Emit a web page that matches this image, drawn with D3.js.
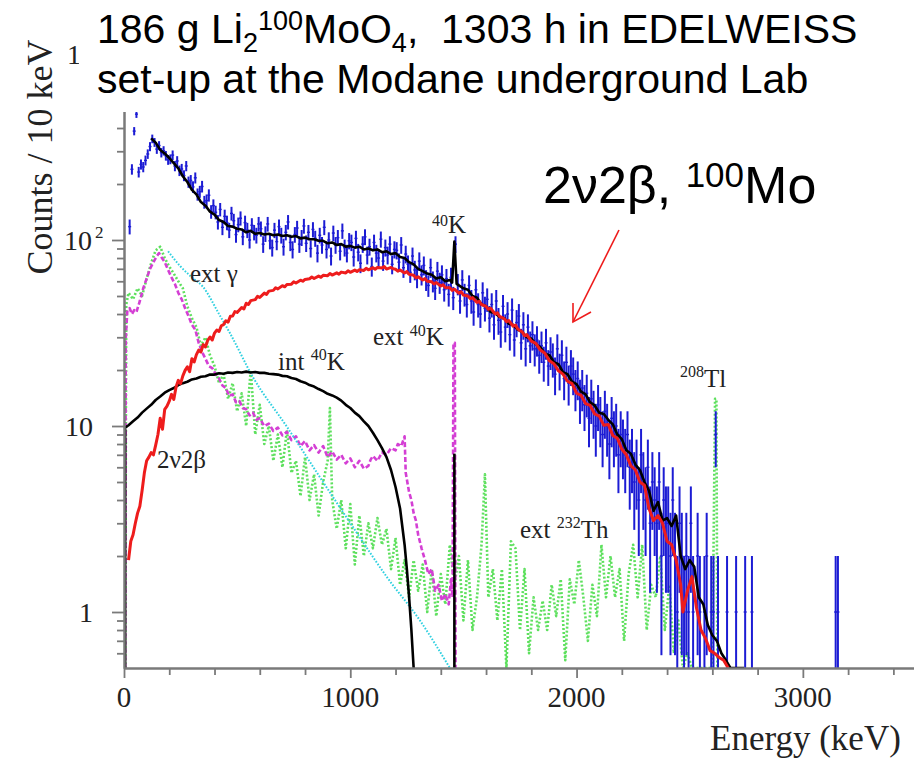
<!DOCTYPE html>
<html>
<head>
<meta charset="utf-8">
<script src="https://cdn.jsdelivr.net/npm/d3@7"></script>
<style>
  body { margin: 0; background: #fff; }
  svg { display: block; }
  .serif { font-family: "Liberation Serif", "Times New Roman", serif; }
  .sans { font-family: "Liberation Sans", Arial, sans-serif; }
</style>
</head>
<body>
<div id="chart"></div>
<script>
// ---- data (counts / 10 keV) ----

// measured spectrum, 10 keV bins starting at 0 keV
const binWidth = 10;
const dataCounts = [
  0, 0, 118, 240, 385, 475, 232, 255, 247, 268, 290, 318, 350, 335, 308, 322, 295, 302, 284, 270,
  272, 286, 250, 266, 236, 241, 222, 250, 205, 209, 193, 216, 176, 182, 194, 160, 163, 174, 142, 153,
  141, 125, 146, 117, 134, 124, 113, 139, 127, 107, 121, 131, 104, 124, 113, 100, 120, 110, 106, 122,
  115, 95, 108, 122, 99, 91, 113, 98, 118, 106, 92, 110, 125, 97, 89, 107, 116, 95, 103, 119,
  96, 110, 90, 114, 102, 85, 106, 94, 117, 89, 100, 82, 109, 94, 103, 87, 112, 91, 85, 99,
  97, 81, 102, 86, 75, 95, 104, 83, 92, 72, 97, 85, 80, 101, 77, 91, 83, 95, 74, 89,
  88, 76, 94, 71, 84, 74, 67, 82, 69, 63, 77, 65, 73, 61, 57, 71, 60, 55, 68, 59,
  65, 54, 62, 51, 63, 49, 95, 58, 47, 61, 51, 45, 57, 47, 41, 54, 45, 40, 52, 43,
  48, 38, 45, 35, 47, 37, 32, 44, 34, 40, 31, 42, 29, 36, 39, 28, 35, 26, 34, 27,
  31, 26, 29, 24, 27, 22, 28, 21, 25, 23, 19, 26, 20, 24, 18, 22, 17, 21, 19, 16,
  18, 14, 16, 13, 15, 11, 14, 12, 10, 13, 11, 9, 12, 10, 8, 11, 9, 10, 7, 9,
  8, 7, 9, 6, 7, 5, 6, 4, 7, 5, 4, 6, 3, 5, 4, 3, 5, 2, 4, 3,
  3, 2, 4, 2, 1, 3, 2, 1, 2, 1, 3, 1, 0, 2, 1, 0, 1, 2, 0, 1,
  1, 9, 1, 0, 0, 0, 1, 0, 0, 0, 1, 0, 0, 0, 1, 0, 0, 1, 0, 0,
  0, 0, 0, 0, 0, 0, 0, 0, 0, 0, 0, 0, 0, 0, 0, 0, 0, 0, 0, 0,
  0, 0, 0, 0, 0, 0, 0, 0, 0, 0, 0, 0, 0, 0, 1, 1, 0, 0, 0, 0
];

// total background model [keV, counts]
const totalModel = [
  [120,352],[140,334],[160,305],[180,292],[200,276],[220,259],[240,243],[260,220],[280,205],[300,186],
  [320,176],[340,160],[360,153],[380,142],[400,137],[420,128],[440,125],[460,119],[480,118],[500,115],
  [520,114],[540,110],[560,112],[580,108],[600,109],[620,107],[640,108],[660,106],[680,107],[700,105],
  [720,106],[740,104],[760,105],[780,102],[800,103],[820,101],[840,101],[860,99],[880,99],[900,96],
  [920,97],[940,94],[960,95],[980,92],[1000,93],[1020,91],[1040,92],[1060,89],[1080,90],[1100,88],
  [1120,89],[1140,86],[1160,87],[1180,84],[1200,85],[1220,81],[1240,80],[1260,76],[1280,74],[1300,70],
  [1320,68],[1340,66],[1360,65],[1380,62],[1400,63],[1420,60],[1440,61],[1450,59],[1460,98],[1470,58],
  [1480,57],[1500,55],[1520,54],[1540,50],[1560,49],[1580,45],[1600,44],[1620,41],[1640,40.5],[1660,38.5],
  [1680,38],[1700,35.5],[1720,35],[1740,33],[1760,32],[1780,30],[1800,29.5],[1820,27.5],[1840,26.5],[1860,24.5],
  [1880,24],[1900,22],[1920,21.5],[1940,19.5],[1960,19],[1980,17.3],[2000,16.8],[2020,15.3],[2040,14.8],[2060,13.4],
  [2080,12.9],[2100,11.8],[2120,11.6],[2140,10.8],[2160,10.2],[2180,9.0],[2200,8.5],[2220,7.4],[2240,7.1],[2260,6.2],
  [2280,5.8],[2300,5.0],[2320,4.5],[2340,3.5],[2360,3.9],[2380,3.1],[2400,3.2],[2420,2.9],[2440,3.3],[2460,2.0],
  [2480,1.7],[2500,1.9],[2520,1.75],[2540,1.2],[2560,1.1],[2580,0.85],[2600,0.75],[2620,0.7],[2640,0.6],[2660,0.55],
  [2680,0.5],[2740,0.5]
];

// 2nu2beta of 100Mo
const dbdModel = [
  [20,1.9],[30,2.4],[40,2.6],[50,3.0],[60,3.4],[70,3.7],[80,4.5],[90,5.6],[100,6.5],[110,6.8],
  [120,7.2],[130,7.0],[140,7.9],[150,9.0],[160,11.0],[170,9.6],[180,12.3],[190,12.8],
  [200,13.6],[210,14.8],[220,13.9],[230,16.2],[240,17.6],[250,16.9],[260,18.6],[270,19.9],[280,20.8],[290,19.6],
  [300,23.0],[310,22.1],[320,24.2],[330,25.6],[340,25.0],[350,27.4],[360,26.6],[370,28.9],[380,30.1],[390,29.0],
  [400,31.6],[410,32.8],[420,32.2],[430,34.6],[440,35.1],[450,36.8],[460,36.2],[470,38.9],[480,39.0],[490,41.2],
  [500,40.8],[520,43.4],[530,42.6],[540,45.7],[550,45.0],[560,47.2],[580,47.8],[590,49.8],[600,49.1],[620,51.8],
  [630,51.0],[640,53.1],[660,53.6],[670,55.4],[680,54.6],[700,56.8],[710,56.0],[720,57.6],[740,57.9],[750,59.6],
  [760,58.7],[780,60.8],[790,60.0],[800,61.4],[820,61.9],[830,63.2],[840,62.1],[860,64.0],[870,63.0],[880,64.6],
  [900,64.3],[910,66.1],[920,64.8],[940,66.6],[950,65.5],[960,67.2],[980,66.5],[990,68.3],[1000,67.0],[1020,68.9],
  [1030,67.8],[1040,69.1],[1060,68.6],[1070,70.4],[1080,69.1],[1100,71.0],[1110,69.6],[1120,71.2],[1140,70.8],[1150,71.9],
  [1160,69.8],[1180,71.2],[1190,70.0],[1200,69.6],[1210,68.0],[1220,69.0],[1240,66.5],[1250,67.6],[1260,65.4],[1280,64.6],
  [1290,62.6],[1300,63.4],[1320,61.0],[1330,62.0],[1340,60.0],[1360,59.6],[1370,58.0],[1380,59.0],[1400,56.6],[1410,57.4],
  [1420,55.6],[1440,55.4],[1450,53.6],[1460,54.4],[1480,51.8],[1490,52.6],[1500,50.6],[1520,50.0],[1530,48.4],[1540,49.0],
  [1560,46.2],[1570,46.8],[1580,45.0],[1600,44.0],[1610,42.4],[1620,43.0],[1640,40.0],[1650,40.6],[1660,38.8],[1680,37.8],
  [1690,36.4],[1700,36.9],[1720,34.4],[1730,34.9],[1740,33.2],[1760,32.0],[1770,30.6],[1780,31.0],[1800,28.6],
  [1820,27.8],[1840,25.6],[1860,24.6],[1880,22.4],[1900,21.6],[1920,19.8],[1940,19.0],[1960,17.4],[1980,16.9],[2000,15.0],
  [2020,14.6],[2040,13.2],[2060,12.9],[2080,11.6],[2100,11.3],[2120,10.1],[2140,10.2],[2160,8.9],[2180,8.6],[2200,7.5],
  [2220,7.0],[2240,6.1],[2260,5.8],[2280,5.0],[2300,4.8],[2320,3.6],[2340,3.1],[2360,3.3],[2380,3.0],[2400,2.4],
  [2420,2.3],[2440,1.9],[2460,1.4],[2470,1.0],[2490,1.3],[2510,1.55],[2530,1.05],[2550,0.8],[2570,0.72],[2590,0.62],
  [2610,0.6],[2630,0.57],[2650,0.55],[2670,0.5]
];

// internal 40K
const int40K = [
  [5,0.5],[5,9.8],[20,10.1],[40,10.6],[60,11.1],[80,11.8],[100,12.4],[120,13.0],[140,13.8],[160,14.4],
  [180,15.1],[200,15.6],[220,16.0],[240,16.6],[260,17.0],[280,17.3],[300,17.8],[320,18.0],[340,18.4],[360,18.5],
  [380,18.9],[400,18.9],[420,19.2],[440,19.1],[460,19.4],[480,19.3],[500,19.5],[520,19.4],[540,19.6],[560,19.4],
  [580,19.5],[600,19.3],[620,19.3],[640,19.1],[660,19.0],[680,18.9],[700,18.6],[720,18.5],[740,18.1],[760,17.9],
  [780,17.4],[800,17.1],[820,16.6],[840,16.3],[860,15.8],[880,15.4],[900,14.9],[920,14.6],[940,14.2],[960,13.7],
  [980,13.0],[1000,12.5],[1020,11.8],[1040,11.3],[1060,10.6],[1080,10.0],[1100,9.2],[1120,8.4],[1140,7.6],[1160,6.8],
  [1180,5.8],[1200,4.7],[1220,3.6],[1240,2.3],[1250,1.7],[1260,1.2],[1270,0.8],[1280,0.5]
];
const peak40KLine = [[1460,0.5],[1460,7.1]];

// external 40K
const ext40K = [
  [5,0.5],[8,30],[15,42],[25,43],[35,40],[45,42],[55,41],[70,47],[85,55],[100,62],
  [115,70],[130,76],[145,82],[155,85],[165,81],[180,76],[195,69],[210,63],[225,58],[240,52],
  [255,48],[270,43],[285,39],[300,35],[315,33],[330,28],[345,25],[360,23],[375,21],[390,20.5],
  [405,19],[420,18],[435,16.5],[450,16],[465,14.5],[480,14.8],[495,13.4],[510,13.6],[525,12.5],[540,12.3],
  [555,11.4],[570,11.8],[585,10.8],[600,11.0],[620,10.0],[640,10.3],[660,9.4],[680,9.8],[700,8.9],[720,9.3],
  [740,8.4],[760,8.8],[780,7.8],[800,8.3],[820,7.4],[840,7.9],[860,7.2],[880,7.8],[900,6.8],[920,7.3],
  [940,6.6],[960,7.0],[980,6.3],[1000,6.7],[1020,6.0],[1040,6.5],[1060,5.9],[1080,6.1],[1090,6.6],[1100,6.9],
  [1120,6.5],[1140,7.2],[1160,7.0],[1180,7.6],[1200,7.4],[1210,8.0],[1225,7.8],[1240,8.8],[1245,5.6],[1260,4.4],
  [1270,4.0],[1280,3.4],[1290,3.1],[1300,2.6],[1315,2.2],[1330,1.9],[1345,1.6],[1360,1.7],[1375,1.3],[1390,1.4],
  [1405,1.15],[1420,1.25],[1435,1.1],[1445,1.5],[1452,1.2],[1456,28],[1462,28],[1465,0.5]
];

// external 232Th
const ext232Th = [
  [5,0.5],[10,45],[20,52],[40,48],[60,55],[80,50],[100,62],[120,75],[140,88],[160,92],
  [180,80],[200,72],[220,66],[240,60],[260,55],[280,44],[300,38],[320,34],[340,27],[360,30],
  [380,24],[400,21],[420,17],[440,19],[460,14],[480,17],[500,12],[520,15],[540,10],[560,20],
  [580,9],[600,13],[620,8],[640,10],[660,6.5],[680,9],[700,6],[720,9.5],[740,5.6],[760,6.5],
  [780,4.2],[800,6.8],[820,4],[840,5.5],[860,3.3],[880,5],[900,6.5],[910,12.5],[920,4],[940,2.8],
  [960,4],[980,2.2],[1000,3.8],[1020,1.8],[1040,3.3],[1060,2],[1080,3],[1100,2.2],[1120,3.2],[1140,2.3],
  [1160,2.8],[1180,1.7],[1200,2.5],[1220,1.4],[1240,1.9],[1260,1.2],[1280,1.9],[1300,1.3],[1320,1.8],[1340,1.0],
  [1360,1.7],[1380,0.95],[1400,1.6],[1420,1.1],[1440,2.3],[1460,1.4],[1480,2.0],[1500,0.9],[1520,1.9],[1540,0.8],
  [1560,1.2],[1580,2.3],[1595,5.5],[1610,1.2],[1630,1.7],[1650,0.9],[1670,1.7],[1690,0.5],[1710,2.4],[1730,2.2],
  [1750,0.8],[1770,1.7],[1790,0.6],[1810,1.2],[1830,0.8],[1850,1.15],[1870,0.8],[1890,1.4],[1910,0.95],[1930,1.5],
  [1950,0.55],[1970,1.5],[1990,1.1],[2010,1.9],[2030,1.2],[2050,0.7],[2070,1.4],[2090,0.95],[2110,2.3],[2130,1.2],
  [2150,2.0],[2170,1.2],[2190,1.7],[2210,0.7],[2230,1.6],[2250,2.3],[2270,1.2],[2290,2.3],[2310,0.8],[2330,1.4],
  [2350,1.2],[2370,2.0],[2390,0.8],[2410,1.4],[2430,0.6],[2450,0.9],[2470,0.5],[2490,0.6],[2510,0.5],[2600,0.5],
  [2612,14],[2618,14],[2622,0.5]
];

// external gamma
const extGamma = [
  [195,87],[250,72],[300,63],[349,56],[420,40],[468,31.6],[570,18.3],[720,9.9],[866,5.3],[1012,2.86],
  [1162,1.54],[1308,0.9],[1440,0.5]
];

// axis ticks
const xMajorTicks = [0, 1000, 2000, 3000];
const xMinorTicks = [200, 400, 600, 800, 1200, 1400, 1600, 1800, 2200, 2400, 2600, 2800, 3200, 3400];
const yMajorTicks = [1, 10, 100, 1000];
const yMinorTicks = [0.6, 0.7, 0.8, 0.9, 2, 3, 4, 5, 6, 7, 8, 9, 20, 30, 40, 50, 60, 70, 80, 90, 200, 300, 400, 500, 600, 700, 800, 900];
// the 10^3 label is mostly hidden behind the title, only its first digit shows
const yTickLabels = [
  { v: 1, base: '1', exp: '' },
  { v: 10, base: '10', exp: '' },
  { v: 100, base: '10', exp: '2' }
];
const hiddenTopLabel = { v: 1000, text: '1' };

// ---- layout ----
const width = 914, height = 761;
const x = d3.scaleLinear().domain([0, 3500]).range([124, 916]);
const y = d3.scaleLog().domain([0.5, 1000]).range([668, 54]);
const yBottom = y.range()[0];

const svg = d3.select('#chart').append('svg')
  .attr('width', width)
  .attr('height', height);

svg.append('rect').attr('width', width).attr('height', height).attr('fill', '#fff');

svg.append('defs').append('clipPath').attr('id', 'plotClip')
  .append('rect')
  .attr('x', x(0)).attr('y', 0)
  .attr('width', x(3500) - x(0)).attr('height', yBottom);

const plot = svg.append('g').attr('clip-path', 'url(#plotClip)');

const line = d3.line()
  .x(d => x(d[0]))
  .y(d => y(Math.max(d[1], 0.3)));

function drawCurve(data, color, widthPx, dash, curve) {
  const gen = curve ? line.curve(curve) : line.curve(d3.curveLinear);
  plot.append('path')
    .attr('d', gen(data))
    .attr('fill', 'none')
    .attr('stroke', color)
    .attr('stroke-width', widthPx)
    .attr('stroke-linejoin', 'round')
    .attr('stroke-dasharray', dash || null);
}

// background components
drawCurve(ext232Th, '#5ee05e', 2.6, '2,2');
drawCurve(ext40K, '#d43fd4', 2.6, '5,2.5');
drawCurve(extGamma, '#2fd0e0', 2, '1.6,1.6', d3.curveMonotoneX);
drawCurve(int40K, '#000', 2.6);
drawCurve(peak40KLine, '#000', 2.6);

// measured data with sqrt(N) error bars
const dataPoints = dataCounts
  .map((n, i) => ({ e: i * binWidth + binWidth / 2, n: n }))
  .filter(d => d.n > 0);

const blue = '#1c1cd4';
plot.selectAll('.err')
  .data(dataPoints)
  .enter()
  .append('line')
  .attr('class', 'err')
  .attr('x1', d => x(d.e)).attr('x2', d => x(d.e))
  .attr('y1', d => y(d.n + Math.sqrt(d.n)))
  .attr('y2', d => (d.n - Math.sqrt(d.n)) > 0.3 ? y(d.n - Math.sqrt(d.n)) : yBottom + 2)
  .attr('stroke', blue)
  .attr('stroke-width', 2);

plot.selectAll('.cen')
  .data(dataPoints)
  .enter()
  .append('line')
  .attr('class', 'cen')
  .attr('x1', d => x(d.e) - 1.5).attr('x2', d => x(d.e) + 1.5)
  .attr('y1', d => y(d.n)).attr('y2', d => y(d.n))
  .attr('stroke', blue)
  .attr('stroke-width', 1.4);

// total model and 2nu2beta on top
drawCurve(totalModel, '#000', 2.6);
drawCurve(dbdModel, '#ee1c1c', 3);

// ---- axes ----
const axisColor = '#7a7a7a';

function styleAxis(g) {
  g.selectAll('.domain').attr('stroke', axisColor).attr('stroke-width', 2);
  g.selectAll('.tick line').attr('stroke', axisColor).attr('stroke-width', 1.8);
  g.selectAll('.tick text').remove();
}

svg.append('g')
  .attr('transform', `translate(0,${yBottom})`)
  .call(d3.axisBottom(x).tickValues(xMinorTicks).tickSize(7).tickSizeOuter(0))
  .call(styleAxis);
svg.append('g')
  .attr('transform', `translate(0,${yBottom})`)
  .call(d3.axisBottom(x).tickValues(xMajorTicks).tickSize(10).tickSizeOuter(0))
  .call(styleAxis);

svg.append('g')
  .attr('transform', `translate(${x(0)},0)`)
  .call(d3.axisLeft(y).tickValues(yMinorTicks).tickSize(7).tickSizeOuter(0))
  .call(styleAxis);
svg.append('g')
  .attr('transform', `translate(${x(0)},0)`)
  .call(d3.axisLeft(y).tickValues(yMajorTicks).tickSize(12).tickSizeOuter(0))
  .call(styleAxis);

// x tick labels
svg.selectAll('.xlab')
  .data(xMajorTicks)
  .enter()
  .append('text')
  .attr('class', 'serif')
  .attr('x', d => x(d))
  .attr('y', yBottom + 39)
  .attr('text-anchor', 'middle')
  .attr('font-size', 29)
  .attr('fill', '#222')
  .text(d => d);

// y tick labels
yTickLabels.forEach(t => {
  const ty = y(t.v) + 10;
  svg.append('text')
    .attr('class', 'serif')
    .attr('x', t.exp ? 92 : 93)
    .attr('y', ty)
    .attr('text-anchor', 'end')
    .attr('font-size', 28)
    .attr('fill', '#222')
    .text(t.base);
  if (t.exp) {
    svg.append('text')
      .attr('class', 'serif')
      .attr('x', 95)
      .attr('y', ty - 12)
      .attr('font-size', 17)
      .attr('fill', '#222')
      .text(t.exp);
  }
});
svg.append('text')
  .attr('class', 'serif')
  .attr('x', 67)
  .attr('y', y(hiddenTopLabel.v) + 10)
  .attr('font-size', 28)
  .attr('fill', '#222')
  .text(hiddenTopLabel.text);

// axis titles
svg.append('text')
  .attr('class', 'serif')
  .attr('transform', 'translate(52,157) rotate(-90)')
  .attr('text-anchor', 'middle')
  .attr('font-size', 36)
  .attr('fill', '#222')
  .text('Counts / 10 keV');

svg.append('text')
  .attr('class', 'serif')
  .attr('x', 710)
  .attr('y', 750)
  .attr('font-size', 35)
  .attr('fill', '#222')
  .text('Energy (keV)');

// rich text helper: parts = [text, size, shift]
function richText(cls, px, py, parts, color) {
  const t = svg.append('text')
    .attr('class', cls)
    .attr('x', px)
    .attr('y', py)
    .attr('fill', color || '#222')
    .style('white-space', 'pre');
  let prev = 0;
  parts.forEach(p => {
    t.append('tspan')
      .attr('font-size', p[1])
      .attr('dy', p[2] - prev)
      .text(p[0]);
    prev = p[2];
  });
  return t;
}

// component labels
richText('serif', 432, 233, [['40', 16, -7], ['K', 25, 0]]);
richText('serif', 190, 282, [['ext \u03b3', 25, 0]]);
richText('serif', 373, 345, [['ext ', 25, 0], ['40', 16, -9], ['K', 25, 0]]);
richText('serif', 278, 370, [['int ', 25, 0], ['40', 16, -10], ['K', 25, 0]]);
richText('serif', 157, 468, [['2\u03bd2\u03b2', 25, 0]]);
richText('serif', 520, 538, [['ext ', 25, 0], ['232', 16, -10], ['Th', 25, 0]]);
richText('serif', 680, 387, [['208', 16, -10], ['Tl', 25, 0]]);

// title block sits on a white box over the top of the frame
svg.append('rect')
  .attr('x', 79).attr('y', 0)
  .attr('width', width - 79).attr('height', 112)
  .attr('fill', '#fff');

richText('sans', 97, 43, [
  ['186 g Li', 41, 0], ['2', 27, 9], ['100', 27, -13], ['MoO', 41, 0], ['4', 27, 9],
  [',  1303 h in EDELWEISS', 41, 0]
], '#000');
richText('sans', 97, 93, [['set-up at the Modane underground Lab', 41, 0]], '#000');

// 2nu2beta annotation with arrow
richText('sans', 543, 203, [['2\u03bd2\u03b2, ', 52, 0], ['100', 35, -16], ['Mo', 52, 0]], '#000');

const arrow = svg.append('g').attr('stroke', '#ee1c1c').attr('stroke-width', 1.6).attr('fill', 'none');
arrow.append('line').attr('x1', 619).attr('y1', 230).attr('x2', 573).attr('y2', 322);
arrow.append('polyline').attr('points', '573,303 573,322 591,312');
</script>
</body>
</html>
